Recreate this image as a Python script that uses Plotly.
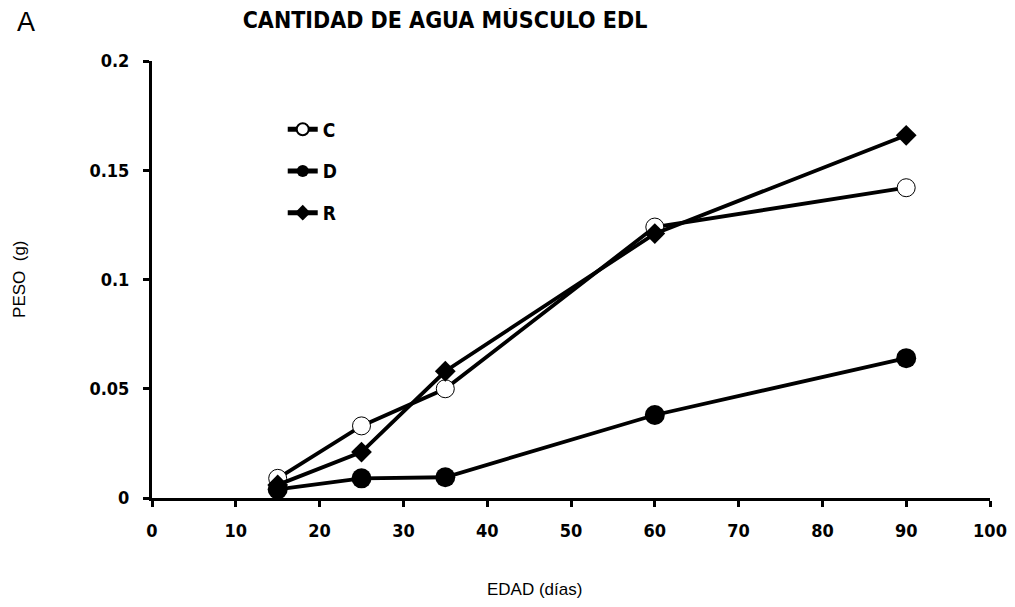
import plotly.graph_objects as go

edad = [15, 25, 35, 60, 90]
serie_c = [0.009, 0.033, 0.050, 0.124, 0.142]
serie_d = [0.004, 0.009, 0.0095, 0.038, 0.064]
serie_r = [0.006, 0.021, 0.058, 0.121, 0.166]
x_ticks = [0, 10, 20, 30, 40, 50, 60, 70, 80, 90, 100]
y_ticks = [0, 0.05, 0.1, 0.15, 0.2]
y_tick_labels = ["0", "0.05", "0.1", "0.15", "0.2"]

FONT = "DejaVu Sans Condensed, Liberation Sans Narrow, Arial Narrow, Liberation Sans, Arial, sans-serif"
FONT2 = "Liberation Sans, Arial, sans-serif"

fig = go.Figure()
fig.add_trace(go.Scatter(x=edad, y=serie_c, name="<b>C</b>", mode="lines+markers",
                         line=dict(color="black", width=3.8),
                         marker=dict(symbol="circle", size=18, color="white",
                                     line=dict(color="black", width=1)),
                         legendgroup="c"))
fig.add_trace(go.Scatter(x=edad, y=serie_d, name="<b>D</b>", mode="lines+markers",
                         line=dict(color="black", width=3.8),
                         marker=dict(symbol="circle", size=20, color="black"),
                         legendgroup="d"))
fig.add_trace(go.Scatter(x=edad, y=serie_r, name="<b>R</b>", mode="lines+markers",
                         line=dict(color="black", width=3.8),
                         marker=dict(symbol="diamond", size=16, color="black"),
                         legendgroup="r"))

fig.update_layout(
    width=1007, height=599,
    margin=dict(l=144, r=25, t=53, b=109),
    paper_bgcolor="white", plot_bgcolor="white",
    font=dict(family=FONT, color="black"),
    showlegend=True,
    legend=dict(x=0.156, y=0.887, xanchor="left", yanchor="top",
                font=dict(size=19, family=FONT, color="black"),
                bgcolor="rgba(0,0,0,0)", tracegroupgap=14,
                itemsizing="constant"),
    title=dict(text="<b>CANTIDAD DE AGUA MÚSCULO EDL</b>", x=0.434, y=0.98,
               xanchor="center", yanchor="middle", xref="container", yref="container",
               font=dict(size=23, family=FONT, color="black")),
)

fig.update_xaxes(range=[0, 100], tickvals=x_ticks, showgrid=False, zeroline=False,
                 showline=True, linecolor="black", linewidth=3,
                 ticks="outside", ticklen=6, tickwidth=3, tickcolor="black",
                 tickfont=dict(size=18, family=FONT, color="black", weight="bold"),
                 ticklabelstandoff=8, automargin=False)
fig.update_yaxes(range=[0, 0.2], tickvals=y_ticks, ticktext=y_tick_labels,
                 showgrid=False, zeroline=False,
                 showline=True, linecolor="black", linewidth=3,
                 ticks="outside", ticklen=6, tickwidth=3, tickcolor="black",
                 tickfont=dict(size=18, family=FONT, color="black", weight="bold"),
                 ticklabelstandoff=10, automargin=False)

fig.add_annotation(text="A", xref="paper", yref="paper", x=-0.150, y=1.089,
                   xanchor="center", yanchor="middle",
                   showarrow=False, font=dict(size=27, family=FONT2, color="black"))
fig.add_annotation(text="PESO  (g)", xref="paper", yref="paper", x=-0.1575, y=0.499,
                   xanchor="center", yanchor="middle",
                   textangle=-90, showarrow=False,
                   font=dict(size=17, family=FONT2, color="black"))
fig.add_annotation(text="EDAD (días)", xref="paper", yref="paper", x=0.457, y=-0.2105,
                   xanchor="center", yanchor="middle",
                   showarrow=False,
                   font=dict(size=17, family=FONT2, color="black"))

fig.write_html("out.html")
